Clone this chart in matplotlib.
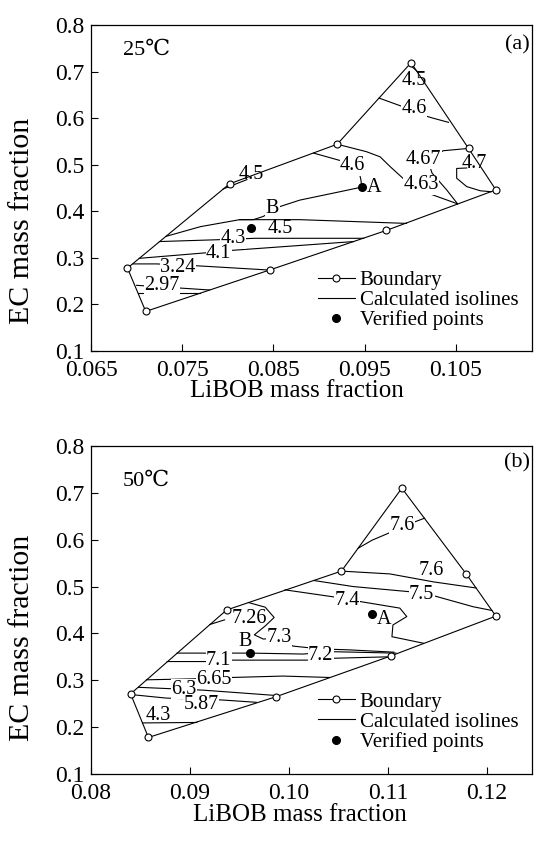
import matplotlib
matplotlib.use('Agg')
import matplotlib.pyplot as plt
from matplotlib.lines import Line2D

plt.rcParams['font.family'] = ['Liberation Serif', 'DejaVu Serif', 'DejaVu Sans', 'Noto Sans CJK SC']

# ---------------- Panel (a) 25 C ----------------
a_bnd_x = [0.0690, 0.0802, 0.0920, 0.1001, 0.1064, 0.1094, 0.0974, 0.0846, 0.0710, 0.0690]
a_bnd_y = [0.278, 0.459, 0.544, 0.719, 0.535, 0.446, 0.359, 0.274, 0.185, 0.278]

a_iso_45_top_x = [0.1000, 0.1009]
a_iso_45_top_y = [0.714, 0.698]
a_iso_46_top_x = [0.0966, 0.0990, 0.1005, 0.1013, 0.1025, 0.1042]
a_iso_46_top_y = [0.643, 0.626, 0.617, 0.607, 0.600, 0.591]
a_iso_45_mid_x = [0.0795, 0.0821]
a_iso_45_mid_y = [0.448, 0.468]
a_iso_46_mid_x = [0.0894, 0.0925, 0.0944, 0.0946, 0.0947, 0.0923, 0.0879, 0.0857, 0.0839, 0.0828, 0.0813]
a_iso_46_mid_y = [0.525, 0.508, 0.485, 0.467, 0.452, 0.442, 0.424, 0.410, 0.389, 0.382, 0.382]
a_iso_45_low_x = [0.0732, 0.0770, 0.0813, 0.0879, 0.0996]
a_iso_45_low_y = [0.346, 0.367, 0.382, 0.382, 0.374]
a_iso_43_x = [0.0725, 0.0790, 0.0830, 0.0949]
a_iso_43_y = [0.335, 0.339, 0.342, 0.342]
a_iso_41_x = [0.0703, 0.0777, 0.0804, 0.0938]
a_iso_41_y = [0.299, 0.311, 0.316, 0.335]
a_iso_324_x = [0.0696, 0.0722, 0.0766, 0.0844]
a_iso_324_y = [0.287, 0.287, 0.283, 0.274]
a_iso_297_x = [0.0700, 0.0749, 0.0780]
a_iso_297_y = [0.241, 0.235, 0.231]
a_iso_297b_x = [0.0702, 0.0770]
a_iso_297b_y = [0.224, 0.224]
a_iso_467_x = [0.1064, 0.1036, 0.1020, 0.1024, 0.1040, 0.1052]
a_iso_467_y = [0.535, 0.530, 0.505, 0.482, 0.446, 0.416]
a_iso_463_x = [0.0920, 0.0952, 0.0967, 0.0978, 0.0992, 0.1007, 0.1025, 0.1052]
a_iso_463_y = [0.544, 0.528, 0.517, 0.496, 0.471, 0.446, 0.435, 0.416]
a_iso_47_x = [0.1062, 0.1051, 0.1051, 0.1062, 0.1077, 0.1089]
a_iso_47_y = [0.493, 0.492, 0.471, 0.453, 0.444, 0.442]

a_lab_text = ['4.5', '4.6', '4.5', '4.6', '4.5', '4.3', '4.1', '3.24', '2.97', '4.67', '4.63', '4.7']
a_lab_x = [0.1005, 0.1004, 0.0826, 0.0937, 0.0858, 0.0806, 0.0790, 0.0745, 0.0728, 0.1015, 0.1012, 0.1070]
a_lab_y = [0.680, 0.621, 0.480, 0.498, 0.362, 0.341, 0.310, 0.280, 0.240, 0.512, 0.457, 0.503]
a_lab_box = [False, True, False, True, False, True, True, True, True, True, True, False]

a_ver_x = [0.0947, 0.0826]
a_ver_y = [0.452, 0.365]
a_ver_lab = ['A', 'B']
a_ver_lab_x = [0.0960, 0.0849]
a_ver_lab_y = [0.450, 0.407]
a_ver_lab_box = [False, True]

# ---------------- Panel (b) 50 C ----------------
b_bnd_x = [0.0840, 0.0937, 0.1053, 0.1114, 0.1179, 0.1209, 0.1103, 0.0987, 0.0858, 0.0840]
b_bnd_y = [0.271, 0.450, 0.533, 0.710, 0.527, 0.437, 0.352, 0.265, 0.178, 0.271]

b_iso_76_top_x = [0.1070, 0.1084, 0.1104, 0.1116, 0.1127, 0.1137]
b_iso_76_top_y = [0.582, 0.599, 0.617, 0.631, 0.638, 0.646]
b_iso_76_low_x = [0.1053, 0.1102, 0.1146, 0.1189]
b_iso_76_low_y = [0.533, 0.527, 0.510, 0.497]
b_iso_75_x = [0.1025, 0.1065, 0.1122, 0.1147, 0.1186, 0.1205]
b_iso_75_y = [0.513, 0.500, 0.489, 0.480, 0.457, 0.449]
b_iso_74_x = [0.0996, 0.1045, 0.1072, 0.1112, 0.1119, 0.1105, 0.1104, 0.1136]
b_iso_74_y = [0.493, 0.478, 0.468, 0.454, 0.436, 0.418, 0.393, 0.379]
b_iso_726_x = [0.0920, 0.0935]
b_iso_726_y = [0.419, 0.429]
b_iso_73_x = [0.0959, 0.0976, 0.0985, 0.0976, 0.0965, 0.0974, 0.0990, 0.1004, 0.1031, 0.1060, 0.1106]
b_iso_73_y = [0.466, 0.456, 0.434, 0.416, 0.397, 0.388, 0.390, 0.373, 0.367, 0.365, 0.360]
b_iso_72_x = [0.0887, 0.0961, 0.1014, 0.1045, 0.1108]
b_iso_72_y = [0.358, 0.358, 0.356, 0.361, 0.358]
b_iso_71_x = [0.0877, 0.0929, 0.0942, 0.1018, 0.1045, 0.1099]
b_iso_71_y = [0.340, 0.340, 0.343, 0.343, 0.347, 0.350]
b_iso_665_x = [0.0856, 0.0924, 0.0942, 0.0994, 0.1041]
b_iso_665_y = [0.301, 0.304, 0.306, 0.309, 0.306]
b_iso_63_x = [0.0848, 0.0870, 0.0913, 0.0984]
b_iso_63_y = [0.285, 0.283, 0.279, 0.268]
b_iso_587_x = [0.0843, 0.0876, 0.0932, 0.0967]
b_iso_587_y = [0.269, 0.262, 0.258, 0.253]
b_iso_43_x = [0.0852, 0.0907]
b_iso_43_y = [0.209, 0.210]

b_lab_text = ['7.6', '7.6', '7.5', '7.4', '7.26', '7.3', '7.2', '7.1', '6.65', '6.3', '5.87', '4.3']
b_lab_x = [0.1114, 0.1144, 0.1134, 0.1059, 0.0960, 0.0990, 0.1032, 0.0929, 0.0924, 0.0894, 0.0911, 0.0868]
b_lab_y = [0.631, 0.534, 0.483, 0.471, 0.431, 0.392, 0.353, 0.342, 0.302, 0.281, 0.249, 0.224]
b_lab_box = [True, False, True, True, False, True, True, True, True, True, True, False]

b_ver_x = [0.1084, 0.0961]
b_ver_y = [0.441, 0.358]
b_ver_lab = ['A', 'B']
b_ver_lab_x = [0.1096, 0.0956]
b_ver_lab_y = [0.429, 0.383]
b_ver_lab_box = [False, False]

a_isolines = [(a_iso_45_top_x, a_iso_45_top_y), (a_iso_46_top_x, a_iso_46_top_y),
              (a_iso_45_mid_x, a_iso_45_mid_y), (a_iso_46_mid_x, a_iso_46_mid_y),
              (a_iso_45_low_x, a_iso_45_low_y), (a_iso_43_x, a_iso_43_y),
              (a_iso_41_x, a_iso_41_y), (a_iso_324_x, a_iso_324_y),
              (a_iso_297_x, a_iso_297_y), (a_iso_297b_x, a_iso_297b_y),
              (a_iso_467_x, a_iso_467_y), (a_iso_463_x, a_iso_463_y),
              (a_iso_47_x, a_iso_47_y)]
b_isolines = [(b_iso_76_top_x, b_iso_76_top_y), (b_iso_76_low_x, b_iso_76_low_y),
              (b_iso_75_x, b_iso_75_y), (b_iso_74_x, b_iso_74_y),
              (b_iso_726_x, b_iso_726_y), (b_iso_73_x, b_iso_73_y),
              (b_iso_72_x, b_iso_72_y), (b_iso_71_x, b_iso_71_y),
              (b_iso_665_x, b_iso_665_y), (b_iso_63_x, b_iso_63_y),
              (b_iso_587_x, b_iso_587_y), (b_iso_43_x, b_iso_43_y)]

a_xticks = [0.065, 0.075, 0.085, 0.095, 0.105]
a_xticklabels = ['0.065', '0.075', '0.085', '0.095', '0.105']
b_xticks = [0.08, 0.09, 0.10, 0.11, 0.12]
b_xticklabels = ['0.08', '0.09', '0.10', '0.11', '0.12']
yticks = [0.1, 0.2, 0.3, 0.4, 0.5, 0.6, 0.7, 0.8]
yticklabels = ['0.1', '0.2', '0.3', '0.4', '0.5', '0.6', '0.7', '0.8']

W, H = 534, 843
fig = plt.figure(figsize=(W / 100, H / 100), dpi=100)
axA = fig.add_axes([91 / W, 1 - 351 / H, 441 / W, 326 / H])
axB = fig.add_axes([91 / W, 1 - 774 / H, 441 / W, 328 / H])

LW = 0.8
LABFS = 14.5


def draw_panel(ax, bnd_x, bnd_y, isolines, lab_text, lab_x, lab_y, lab_box,
               ver_x, ver_y, ver_lab, ver_lab_x, ver_lab_y, ver_lab_box,
               xlim, xticks, xticklabels, temp, tag, temp_xy, tag_xy, xlab_xy, ylab_xy, leg_y):
    for xs, ys in isolines:
        ax.plot(xs, ys, color='black', lw=LW, zorder=2)
    ax.plot(bnd_x, bnd_y, color='black', lw=LW, zorder=3)
    ax.plot(bnd_x[:-1], bnd_y[:-1], ls='none', marker='o', ms=5, mfc='white',
            mec='black', mew=0.8, zorder=5)
    for t, x, y, b in zip(lab_text, lab_x, lab_y, lab_box):
        kw = {}
        if b:
            kw['bbox'] = dict(boxstyle='square,pad=0.02', fc='white', ec='none')
        ax.text(x, y, t, fontsize=LABFS, ha='center', va='center', zorder=4, **kw)
    ax.plot(ver_x, ver_y, ls='none', marker='o', ms=5.5, color='black', zorder=6)
    for t, x, y, b in zip(ver_lab, ver_lab_x, ver_lab_y, ver_lab_box):
        kw = {}
        if b:
            kw['bbox'] = dict(boxstyle='square,pad=0.02', fc='white', ec='none')
        ax.text(x, y, t, fontsize=LABFS, ha='center', va='center', zorder=4, **kw)

    ax.set_xlim(*xlim)
    ax.set_ylim(0.1, 0.8)
    ax.set_xticks(xticks)
    ax.set_xticklabels(xticklabels)
    ax.set_yticks(yticks)
    ax.set_yticklabels(yticklabels)
    ax.tick_params(direction='in', length=5, width=0.8, labelsize=17)
    ax.tick_params(axis='x', pad=6.5)
    ax.tick_params(axis='y', pad=5)
    for s in ax.spines.values():
        s.set_linewidth(0.9)
    ax.set_xlabel('LiBOB mass fraction', fontsize=18)
    ax.set_ylabel('EC mass fraction', fontsize=21.5)
    ax.xaxis.label.set_va('center')
    ax.yaxis.label.set_va('center')
    ax.xaxis.set_label_coords(*xlab_xy)
    ax.yaxis.set_label_coords(*ylab_xy)
    ax.text(temp_xy[0], temp_xy[1], temp, transform=ax.transAxes, fontsize=16,
            ha='center', va='center')
    ax.text(tag_xy[0], tag_xy[1], tag, transform=ax.transAxes, fontsize=16,
            ha='center', va='center')

    handles = [Line2D([], [], color='black', lw=LW, marker='o', ms=5, mfc='white', mec='black', mew=0.8),
               Line2D([], [], color='black', lw=LW),
               Line2D([], [], ls='none', marker='o', ms=5.5, color='black')]
    ax.legend(handles, ['Boundary', 'Calculated isolines', 'Verified points'],
              loc='upper left', bbox_to_anchor=(0.515, leg_y), frameon=False,
              fontsize=15, handlelength=1.75, handletextpad=0.25, labelspacing=0.02,
              borderpad=0, borderaxespad=0, numpoints=1)


draw_panel(axA, a_bnd_x, a_bnd_y, a_isolines, a_lab_text, a_lab_x, a_lab_y, a_lab_box,
           a_ver_x, a_ver_y, a_ver_lab, a_ver_lab_x, a_ver_lab_y, a_ver_lab_box,
           (0.065, 0.11336), a_xticks, a_xticklabels, '25\u2103', '(a)',
           (0.127, 0.923), (0.966, 0.939), (0.467, -0.123), (-0.156, 0.40), 0.247)
draw_panel(axB, b_bnd_x, b_bnd_y, b_isolines, b_lab_text, b_lab_x, b_lab_y, b_lab_box,
           b_ver_x, b_ver_y, b_ver_lab, b_ver_lab_x, b_ver_lab_y, b_ver_lab_box,
           (0.08, 0.12455), b_xticks, b_xticklabels, '50\u2103', '(b)',
           (0.125, 0.893), (0.966, 0.948), (0.474, -0.125), (-0.156, 0.415), 0.250)

fig.savefig('out.png', dpi=100)
